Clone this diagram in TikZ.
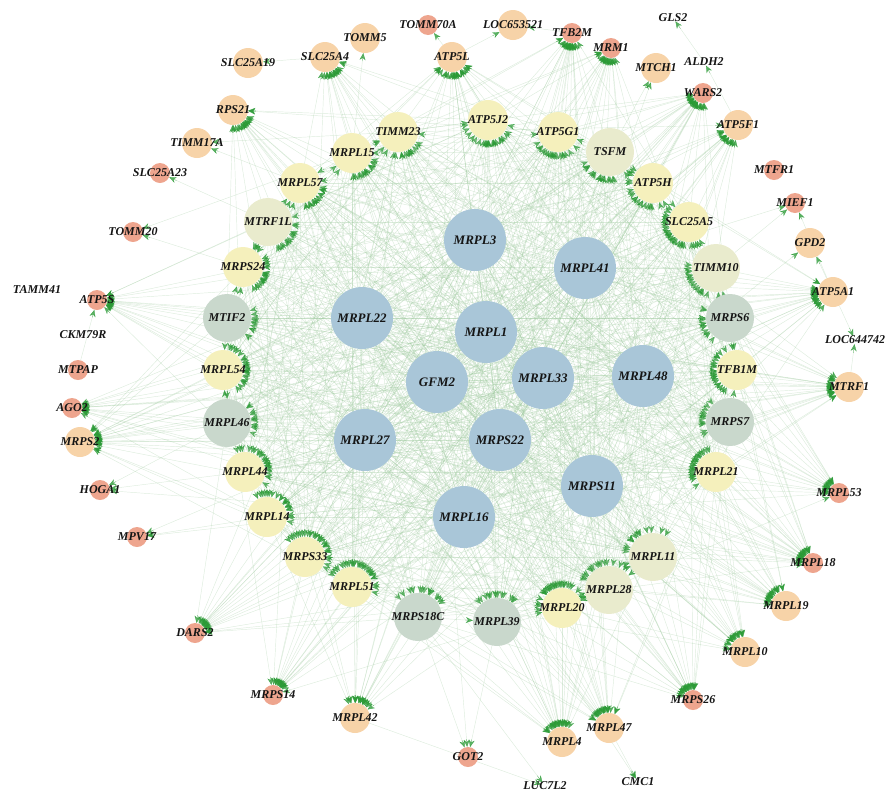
\documentclass[tikz,border=0pt]{standalone}
\usepackage{fontspec}
\setmainfont{Liberation Serif}
\usetikzlibrary{arrows.meta,calc,backgrounds}
\definecolor{hubc}{HTML}{A9C6D8}
\definecolor{greyc}{HTML}{C9D8CC}
\definecolor{lightc}{HTML}{E9EBCD}
\definecolor{yelc}{HTML}{F5F0BC}
\definecolor{orac}{HTML}{F7D3A8}
\definecolor{redc}{HTML}{EEA58E}
\definecolor{edgec}{HTML}{9CC89C}
\definecolor{tipc}{HTML}{2A9A35}
\definecolor{labc}{HTML}{151515}
\tikzset{
  hubnode/.style={circle,fill=hubc,minimum size=62pt,inner sep=0pt},
  greynode/.style={circle,fill=greyc,minimum size=48pt,inner sep=0pt},
  lightnode/.style={circle,fill=lightc,minimum size=48pt,inner sep=0pt},
  yelnode/.style={circle,fill=yelc,minimum size=40pt,inner sep=0pt},
  oranode/.style={circle,fill=orac,minimum size=30pt,inner sep=0pt},
  rednode/.style={circle,fill=redc,minimum size=20pt,inner sep=0pt},
  barenode/.style={circle,minimum size=8pt,inner sep=0pt},
  lab/.style={font=\fontsize{12}{12}\selectfont\bfseries\itshape,text=labc},
  hlab/.style={font=\fontsize{13}{13}\selectfont\bfseries\itshape,text=labc},
  eline/.style={draw=edgec,line width=0.45pt,opacity=0.34},
  etip/.style={draw=tipc,line width=0.3pt,opacity=0.75,-{Stealth[length=7pt,width=6pt]}},
}
\newcommand\setrad[2]{\expandafter\xdef\csname rd@#1\endcsname{#2}}
\newcommand\gedge[2]{\draw[eline] (#1) -- (#2); \draw[etip] ($(#2)!\csname rd@#2\endcsname pt!(#1)$) -- (#2);}
\newcommand\pedge[2]{\draw[eline] (#1) -- (#2);}
\def\hubs{MRPL3,MRPL41,MRPL22,MRPL1,GFM2,MRPL33,MRPL48,MRPL27,MRPS22,MRPS11,MRPL16}
\def\mids{MTIF2,MRPL46,MRPS6,MRPS7,MRPS18C,MRPL39,MRPL11,MRPL28,TIMM10,TSFM,MTRF1L,MRPL15,MRPL57,TIMM23,ATP5J2,ATP5G1,ATP5H,MRPS24,MRPL54,MRPL44,MRPL14,MRPS33,MRPL51,MRPL20,MRPL21,TFB1M,SLC25A5}
\def\strong{MRPS2,MRPS14,MRPL42,MRPL4,MRPL47,MRPS26,MRPL10,MRPL19,MRPL18,MRPL53,MTRF1,ATP5A1,ATP5F1,ATP5L,TFB2M,RPS21,DARS2,SLC25A4,MRM1,WARS2,AGO2,ATP5S}
\begin{document}
\begin{tikzpicture}[x=1pt,y=-1pt]
\useasboundingbox (0,0) rectangle (886,793);
\foreach \n/\x/\y in {MRPL3/475/240,MRPL41/585/268,MRPL22/362/318,MRPL1/486/332,GFM2/437/382,MRPL33/543/378,MRPL48/643/376,MRPL27/365/440,MRPS22/500/440,MRPS11/592/486,MRPL16/464/517}
  {\node[hubnode,label={[hlab]center:\n}] (\n) at (\x,\y) {};\setrad{\n}{41}}
\foreach \n/\x/\y in {MTIF2/227/318,MRPL46/227/423,MRPS6/730/318,MRPS7/730/422,MRPS18C/418/617,MRPL39/497/622}
  {\node[greynode,label={[lab]center:\n}] (\n) at (\x,\y) {};\setrad{\n}{32}}
\foreach \n/\x/\y in {MRPL11/653/557,MRPL28/609/590,TIMM10/716/268,TSFM/610/152,MTRF1L/268/222}
  {\node[lightnode,label={[lab]center:\n}] (\n) at (\x,\y) {};\setrad{\n}{32}}
\foreach \n/\x/\y in {MRPL15/352/153,MRPL57/300/183,TIMM23/398/132,ATP5J2/488/120,ATP5G1/558/132,ATP5H/653/183,MRPS24/243/267,MRPL54/223/370,MRPL44/245/472,MRPL14/267/517,MRPS33/305/557,MRPL51/352/587,MRPL20/562/608,MRPL21/716/472,TFB1M/737/370,SLC25A5/689/222}
  {\node[yelnode,label={[lab]center:\n}] (\n) at (\x,\y) {};\setrad{\n}{28}}
\foreach \n/\x/\y in {SLC25A19/248/63,RPS21/233/110,TIMM17A/197/143,MRPS2/80/442,MRPL42/355/718,MRPL4/562/742,MRPL47/609/728,MRPL10/745/652,MRPL19/786/606,MTRF1/849/387,ATP5A1/833/292,GPD2/810/243,ATP5F1/738/125,MTCH1/656/68,LOC653521/513/25,TOMM5/365/38,SLC25A4/325/57,ATP5L/452/57}
  {\node[oranode,label={[lab]center:\n}] (\n) at (\x,\y) {};\setrad{\n}{23}}
\foreach \n/\x/\y in {SLC25A23/160/173,TOMM20/133/232,ATP5S/97/300,MTPAP/78/370,AGO2/72/408,HOGA1/100/490,MPV17/137/537,DARS2/195/633,MRPS14/273/695,GOT2/468/757,MRPS26/693/700,MRPL18/813/563,MRPL53/839/493,MIEF1/795/203,MTFR1/774/170,WARS2/703/93,MRM1/611/48,TFB2M/572/33,TOMM70A/428/25}
  {\node[rednode,label={[lab]center:\n}] (\n) at (\x,\y) {};\setrad{\n}{18}}
\foreach \n/\x/\y in {TAMM41/37/290,CKM79R/83/335,LOC644742/855/340,ALDH2/704/62,GLS2/673/18,LUC7L2/545/786,CMC1/638/782}
  {\node[barenode,label={[lab]center:\n}] (\n) at (\x,\y) {};\setrad{\n}{13}}
\begin{pgfonlayer}{background}
\pgfmathsetseed{4242}
\foreach \a [count=\i] in \hubs {\foreach \b [count=\j] in \hubs {\ifnum\j>\i \pedge{\a}{\b}\fi}}
\foreach \a in \hubs {\foreach \b in \mids {\gedge{\a}{\b}}}
\foreach \a in \hubs {\foreach \b in \strong {\gedge{\a}{\b}}}
\foreach \a [count=\i] in \mids {\foreach \b [count=\j] in \mids {\ifnum\j>\i \pgfmathtruncatemacro\r{rnd<0.75?1:0}\ifnum\r=1 \gedge{\a}{\b}\fi\fi}}
\foreach \a in \mids {\foreach \b in \strong {\pgfmathtruncatemacro\r{rnd<0.3?1:0}\ifnum\r=1 \gedge{\a}{\b}\fi}}
\foreach \a/\b in {ALDH2/GLS2,ATP5F1/ALDH2,MTPAP/ATP5S,MRPL15/TOMM5,ATP5L/TOMM70A,ATP5L/LOC653521,TFB2M/LOC653521,TSFM/MTCH1,MRPL41/MTCH1,ATP5A1/MIEF1,ATP5A1/GPD2,TIMM10/MIEF1,TIMM23/TIMM17A,MRPL57/TIMM17A,SLC25A4/SLC25A19,MTRF1L/SLC25A23,MRPS24/TOMM20,MRPL15/TOMM20,MRPL46/HOGA1,MRPS22/HOGA1,MRPL16/HOGA1,MRPL27/MPV17,MRPL14/MPV17,MRPS11/MPV17,MRPS18C/GOT2,MRPL39/GOT2,GFM2/GOT2,MRPL42/LUC7L2,MRPS18C/LUC7L2,MRPL47/CMC1,MRPL16/CMC1,MRPL48/GPD2,MRPL41/MIEF1,MTRF1/LOC644742,ATP5A1/LOC644742}
  {\gedge{\a}{\b}}
\end{pgfonlayer}
\end{tikzpicture}
\end{document}
